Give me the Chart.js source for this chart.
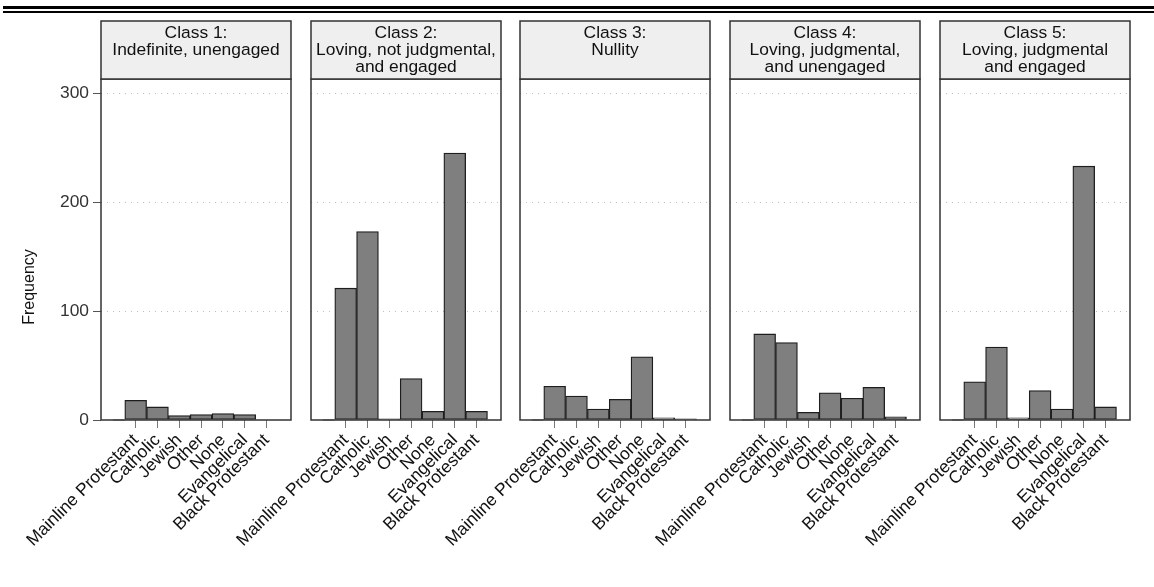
<!DOCTYPE html>
<html>
<head>
<meta charset="utf-8">
<script src="https://cdn.jsdelivr.net/npm/chart.js@4.4.1/dist/chart.umd.min.js"></script>
<style>
  html, body { margin: 0; padding: 0; background: #fff; }
  body { position: relative; width: 1154px; height: 587px; overflow: hidden; font-family: "Liberation Sans", Arial, sans-serif; }
  .rule { position: absolute; left: 3px; right: 0; background: #000; }
  .facet { position: absolute; top: 0; width: 294px; height: 587px; }
  .facet canvas { display: block; }
</style>
</head>
<body>
<div class="rule" style="top:6px;height:3px"></div>
<div class="rule" style="top:11px;height:1.5px"></div>
<div id="facets"></div>
<script>
// Religious tradition categories on the x axis
const categories = ['Mainline Protestant', 'Catholic', 'Jewish', 'Other', 'None', 'Evangelical', 'Black Protestant'];

// Strip labels for each latent class
const class1Title = ['Class 1:', 'Indefinite, unengaged'];
const class2Title = ['Class 2:', 'Loving, not judgmental,', 'and engaged'];
const class3Title = ['Class 3:', 'Nullity'];
const class4Title = ['Class 4:', 'Loving, judgmental,', 'and unengaged'];
const class5Title = ['Class 5:', 'Loving, judgmental', 'and engaged'];

// Frequencies per category, one array per class
const class1 = [18, 12, 4, 5, 6, 5, 0];
const class2 = [121, 173, 1, 38, 8, 245, 8];
const class3 = [31, 22, 10, 19, 58, 2, 1];
const class4 = [79, 71, 7, 25, 20, 30, 3];
const class5 = [35, 67, 2, 27, 10, 233, 12];

const yTicks = [0, 100, 200, 300];
const yAxisTitle = 'Frequency';

const panels = [
  { title: class1Title, values: class1 },
  { title: class2Title, values: class2 },
  { title: class3Title, values: class3 },
  { title: class4Title, values: class4 },
  { title: class5Title, values: class5 }
];

// Facet geometry
const FONT = '"Liberation Sans", Arial, sans-serif';
const PANEL_LEFT = [101, 311, 520, 730, 940];
const AXIS_W = 101;
const CANVAS_W = 294;
const CANVAS_H = 587;
const PLOT_TOP = 79;
const PLOT_BOTTOM = 420;
const STRIP_TOP = 21;
const Y_MAX = 313;
const X_MIN = -0.59;
const X_MAX = 8.12;

// Draws the facet strip, the panel frame and the shared y-axis title
const facetPlugin = {
  id: 'facet',
  afterDatasetsDraw(chart, args, opts) {
    const { ctx, chartArea: a, scales } = chart;
    const y0 = scales.y.getPixelForValue(0);
    ctx.save();
    // short axis stub left of the first bar
    ctx.strokeStyle = '#b4b4b4';
    ctx.lineWidth = 2;
    ctx.beginPath();
    ctx.moveTo(scales.x.getPixelForValue(-0.05), y0);
    ctx.lineTo(scales.x.getPixelForValue(0.5), y0);
    ctx.stroke();
    // panel frame
    ctx.strokeStyle = '#333';
    ctx.lineWidth = 1.5;
    ctx.strokeRect(a.left, a.top, a.right - a.left, a.bottom - a.top);
    ctx.restore();
  },
  afterDraw(chart, args, opts) {
    const { ctx, chartArea: a } = chart;
    ctx.save();
    // strip
    ctx.fillStyle = '#efefef';
    ctx.fillRect(a.left, STRIP_TOP, a.right - a.left, a.top - STRIP_TOP);
    ctx.strokeStyle = '#333';
    ctx.lineWidth = 1.5;
    ctx.strokeRect(a.left, STRIP_TOP, a.right - a.left, a.top - STRIP_TOP);
    ctx.fillStyle = '#111';
    ctx.font = '17.4px ' + FONT;
    ctx.textAlign = 'center';
    ctx.textBaseline = 'middle';
    const cx = (a.left + a.right) / 2;
    opts.title.forEach((line, i) => ctx.fillText(line, cx, 33 + i * 17));
    // y-axis title on the first facet only
    if (opts.showYTitle) {
      ctx.translate(30, 287);
      ctx.rotate(-Math.PI / 2);
      ctx.font = '16px ' + FONT;
      ctx.fillText(yAxisTitle, 0, 0);
    }
    ctx.restore();
  }
};

const host = document.getElementById('facets');

panels.forEach((p, idx) => {
  const first = idx === 0;
  const wrap = document.createElement('div');
  wrap.className = 'facet';
  wrap.style.left = (PANEL_LEFT[idx] - AXIS_W) + 'px';
  const canvas = document.createElement('canvas');
  canvas.width = CANVAS_W;
  canvas.height = CANVAS_H;
  wrap.appendChild(canvas);
  host.appendChild(wrap);

  new Chart(canvas, {
    type: 'bar',
    data: {
      datasets: [{
        data: p.values.map((v, i) => ({ x: i + 1, y: v })),
        backgroundColor: '#7f7f7f',
        borderColor: '#1e1e1e',
        borderWidth: 1.3,
        borderSkipped: false,
        barPercentage: 1,
        categoryPercentage: 1
      }]
    },
    options: {
      responsive: false,
      animation: false,
      devicePixelRatio: 1,
      layout: { padding: { top: PLOT_TOP, right: 3, bottom: 0, left: 0 } },
      plugins: {
        legend: { display: false },
        tooltip: { enabled: false },
        title: { display: false },
        facet: { title: p.title, showYTitle: first }
      },
      scales: {
        x: {
          type: 'linear',
          min: X_MIN,
          max: X_MAX,
          offset: false,
          afterBuildTicks: (s) => { s.ticks = categories.map((c, i) => ({ value: i + 1 })); },
          afterFit: (s) => { s.height = CANVAS_H - PLOT_BOTTOM; },
          ticks: {
            autoSkip: false,
            minRotation: 45,
            maxRotation: 45,
            padding: 2,
            color: '#111',
            font: { size: 17.5, family: FONT },
            callback: (v) => categories[v - 1]
          },
          grid: { offset: false, drawOnChartArea: false, drawTicks: true, tickLength: 8, tickColor: '#777', lineWidth: 1 },
          border: { display: false }
        },
        y: {
          min: 0,
          max: Y_MAX,
          afterBuildTicks: (s) => { s.ticks = yTicks.map(v => ({ value: v })); },
          afterFit: (s) => { s.width = AXIS_W; },
          ticks: {
            display: first,
            includeBounds: false,
            padding: 4,
            color: '#333',
            font: { size: 17.4, family: FONT }
          },
          grid: {
            drawTicks: first,
            tickLength: 8,
            tickColor: '#555',
            tickBorderDash: [],
            lineWidth: 1,
            color: (c) => (c.tick && c.tick.value === 0) ? 'rgba(0,0,0,0)' : '#c2c2c2'
          },
          border: { display: false, dash: [1, 5] }
        }
      }
    },
    plugins: [facetPlugin]
  });
});
</script>
</body>
</html>
